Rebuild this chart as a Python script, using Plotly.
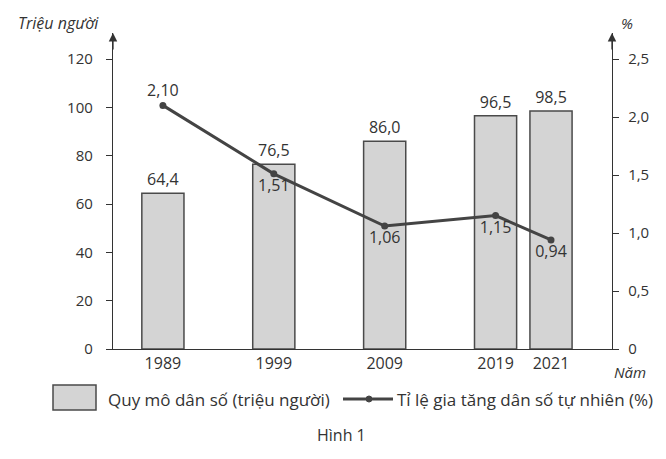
import plotly.graph_objects as go

years = ["1989", "1999", "2009", "2019", "2021"]
population = [64.4, 76.5, 86.0, 96.5, 98.5]
growth_rate = [2.10, 1.51, 1.06, 1.15, 0.94]
left_ticks = [0, 20, 40, 60, 80, 100, 120]
right_ticks = [0, 0.5, 1.0, 1.5, 2.0, 2.5]
right_tick_text = ["0", "0,5", "1,0", "1,5", "2,0", "2,5"]

# layout helper: slot positions on the x axis (2021 sits close to 2019)
x_slots = [0, 1, 2, 3, 3.5]

FONT = "Open Sans"
TXT = "#333333"
BAR_FILL = "#d4d4d4"
BAR_LINE = "#4a4a4a"
LINE_C = "#444444"

def fmt(v, d):
    return f"{v:.{d}f}".replace(".", ",")

fig = go.Figure()
fig.add_trace(go.Bar(
    x=x_slots, y=population, width=0.38,
    marker=dict(color=BAR_FILL, line=dict(color=BAR_LINE, width=1.5)),
    text=[fmt(v, 1) for v in population], textposition="outside",
    textfont=dict(family=FONT, size=16, color=TXT),
    cliponaxis=False, showlegend=False, yaxis="y",
))
fig.add_trace(go.Scatter(
    x=x_slots, y=growth_rate, mode="lines+markers+text",
    line=dict(color=LINE_C, width=3), marker=dict(color=LINE_C, size=7),
    text=[fmt(v, 2) for v in growth_rate],
    textposition=["top center", "bottom center", "bottom center", "bottom center", "bottom center"],
    textfont=dict(family=FONT, size=16, color=TXT),
    cliponaxis=False, showlegend=False, yaxis="y2",
))

# page body has an 8px margin: figure is sized/offset to compensate
PL, PR, PT, PB = 113, 612, 33, 349   # plot area in window pixels
ymax = 120 * (PB - PT) / 290

fig.update_layout(
    width=658, height=451,
    margin=dict(l=PL - 8, r=666 - PR, t=PT - 8, b=459 - PB, autoexpand=False),
    paper_bgcolor="white", plot_bgcolor="white",
    font=dict(family=FONT, size=16, color=TXT),
    showlegend=False,
    xaxis=dict(range=[-0.45, 4.05], tickvals=x_slots, ticktext=years,
               showgrid=False, zeroline=False, showline=True, linecolor="#333",
               linewidth=1.3, ticks="", tickfont=dict(size=16, color=TXT)),
    yaxis=dict(range=[0, ymax], tickvals=left_ticks, showgrid=False, zeroline=False,
               showline=True, linecolor="#333", linewidth=1.3, ticks="outside",
               ticklen=6, tickcolor="#333", ticklabelstandoff=10,
               tickfont=dict(size=15, color=TXT)),
    yaxis2=dict(range=[0, ymax / 48], overlaying="y", side="right",
                tickvals=right_ticks, ticktext=right_tick_text, showgrid=False,
                zeroline=False, showline=True, linecolor="#333", linewidth=1.3,
                ticks="outside", ticklen=6, tickcolor="#333", ticklabelstandoff=6,
                tickfont=dict(size=15, color=TXT)),
)

def px(x):
    return (x - PL) / (PR - PL)

def py(y):
    return (PB - y) / (PB - PT)

annotations = [
    dict(x=0, y=1, xref="x domain", yref="y domain", ax=0, ay=18, showarrow=True,
         arrowhead=2, arrowsize=1.3, arrowwidth=1.3, arrowcolor="#333", text=""),
    dict(x=1, y=1, xref="x domain", yref="y domain", ax=0, ay=18, showarrow=True,
         arrowhead=2, arrowsize=1.3, arrowwidth=1.3, arrowcolor="#333", text=""),
    dict(x=px(101), y=py(23), xref="paper", yref="paper", text="<i>Triệu người</i>",
         showarrow=False, xanchor="right", yanchor="middle", font=dict(size=16, color=TXT)),
    dict(x=px(619), y=py(23), xref="paper", yref="paper", text="<i>%</i>",
         showarrow=False, xanchor="left", yanchor="middle", font=dict(size=15, color=TXT)),
    dict(x=px(612), y=py(360), xref="paper", yref="paper", text="<i>Năm</i>",
         showarrow=False, xanchor="left", yanchor="top", font=dict(size=15, color=TXT)),
    dict(x=px(106), y=py(399), xref="paper", yref="paper",
         text="Quy mô dân số (triệu người)", showarrow=False, xanchor="left",
         yanchor="middle", font=dict(size=17, color=TXT)),
    dict(x=px(395), y=py(399), xref="paper", yref="paper",
         text="Tỉ lệ gia tăng dân số tự nhiên (%)", showarrow=False, xanchor="left",
         yanchor="middle", font=dict(size=17, color=TXT)),
    dict(x=px(341), y=py(435), xref="paper", yref="paper", text="Hình 1",
         showarrow=False, xanchor="center", yanchor="middle", font=dict(size=16, color=TXT)),
]
fig.update_layout(annotations=annotations)

shapes = [
    dict(type="rect", xref="paper", yref="paper", x0=px(53), x1=px(96), y0=py(410), y1=py(385),
         fillcolor=BAR_FILL, line=dict(color=BAR_LINE, width=1.5)),
    dict(type="line", xref="paper", yref="paper", x0=px(343), x1=px(393), y0=py(399), y1=py(399),
         line=dict(color=LINE_C, width=3)),
    dict(type="circle", xref="paper", yref="paper", x0=px(366), x1=px(372), y0=py(402), y1=py(396),
         fillcolor=LINE_C, line=dict(color=LINE_C, width=1)),
]
fig.update_layout(shapes=shapes)

fig.write_html("out.html")
